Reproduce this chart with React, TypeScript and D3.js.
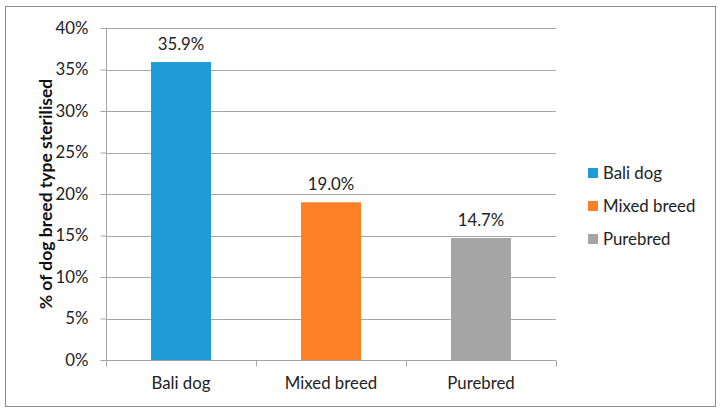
import React, { useEffect, useRef } from "react";
import * as d3 from "d3";

const categories = ["Bali dog", "Mixed breed", "Purebred"];
const values = [35.9, 19.0, 14.7];
const colors = ["#1F9BD8", "#FD7F26", "#A5A5A5"];
const yTicks = [0, 5, 10, 15, 20, 25, 30, 35, 40];

const W = 723;
const H = 412;
const FONT = "Lato, 'Open Sans', sans-serif";
const FS = "16.8px";

const App = () => {
  const ref = useRef<SVGSVGElement | null>(null);

  useEffect(() => {
    const svg = d3.select(ref.current);
    svg.selectAll("*").remove();

    const margin = { top: 28, left: 106, right: 167, bottom: 52 };
    const width = W - margin.left - margin.right;
    const height = H - margin.top - margin.bottom;

    // outer frame
    svg
      .append("rect")
      .attr("x", 5.5)
      .attr("y", 6.5)
      .attr("width", 710)
      .attr("height", 400)
      .attr("fill", "white")
      .attr("stroke", "#8c8c8c")
      .attr("stroke-width", 1);

    const x = d3
      .scaleBand()
      .domain(categories)
      .range([0, width])
      .paddingInner(0.6)
      .paddingOuter(0.3);

    const y = d3.scaleLinear().domain([0, 40]).range([height, 0]);

    const g = svg
      .append("g")
      .attr("transform", `translate(${margin.left},${margin.top})`);

    // gridlines
    g.selectAll(".grid")
      .data(yTicks.slice(1))
      .enter()
      .append("line")
      .attr("x1", 0)
      .attr("x2", width)
      .attr("y1", (d) => Math.round(y(d)) + 0.5)
      .attr("y2", (d) => Math.round(y(d)) + 0.5)
      .attr("stroke", "#a6a6a6");

    // y axis
    const yAxis = g
      .append("g")
      .attr("transform", "translate(0.5,0)")
      .call(
        d3
          .axisLeft(y)
          .tickValues(yTicks)
          .tickSize(6)
          .tickPadding(12)
          .tickFormat((d) => `${d}%`)
      );
    yAxis.select(".domain").attr("stroke", "#a6a6a6").attr("d", `M0,0V${height}`);
    yAxis.selectAll(".tick line").attr("stroke", "#a6a6a6");
    yAxis
      .selectAll(".tick text")
      .attr("fill", "#222")
      .style("font-family", FONT)
      .style("font-size", FS);

    // x axis
    const xAxis = g
      .append("g")
      .attr("transform", `translate(0,${height + 0.5})`)
      .call(d3.axisBottom(x).tickSize(0).tickPadding(17));
    xAxis.select(".domain").attr("stroke", "#a6a6a6").attr("d", `M0,0H${width}`);
    xAxis
      .selectAll(".tick text")
      .attr("fill", "#222")
      .style("font-family", FONT)
      .style("font-size", FS);
    const step = x.step();
    xAxis
      .selectAll(".sep")
      .data(d3.range(categories.length + 1))
      .enter()
      .append("line")
      .attr("x1", (i) => Math.round(i * step) + 0.5)
      .attr("x2", (i) => Math.round(i * step) + 0.5)
      .attr("y1", 0)
      .attr("y2", 6)
      .attr("stroke", "#a6a6a6");

    // bars
    g.selectAll(".bar")
      .data(values)
      .enter()
      .append("rect")
      .attr("x", (d, i) => x(categories[i]) as number)
      .attr("y", (d) => y(d))
      .attr("width", x.bandwidth())
      .attr("height", (d) => height - y(d))
      .attr("fill", (d, i) => colors[i]);

    g.selectAll(".lbl")
      .data(values)
      .enter()
      .append("text")
      .attr("x", (d, i) => (x(categories[i]) as number) + x.bandwidth() / 2)
      .attr("y", (d) => y(d) - 12)
      .attr("text-anchor", "middle")
      .attr("fill", "#222")
      .style("font-family", FONT)
      .style("font-size", FS)
      .text((d) => `${d.toFixed(1)}%`);

    // y label
    svg
      .append("text")
      .attr("transform", `translate(52,${margin.top + height / 2}) rotate(-90)`)
      .attr("text-anchor", "middle")
      .attr("fill", "#111")
      .style("font-family", FONT)
      .style("font-size", "17.5px")
      .style("font-weight", "bold")
      .text("% of dog breed type sterilised");

    // legend
    const legend = svg
      .append("g")
      .selectAll("g")
      .data(categories)
      .enter()
      .append("g")
      .attr("transform", (d, i) => `translate(588,${173 + i * 33})`);
    legend
      .append("rect")
      .attr("x", 0)
      .attr("y", -5)
      .attr("width", 10)
      .attr("height", 10)
      .attr("fill", (d, i) => colors[i]);
    legend
      .append("text")
      .attr("x", 15)
      .attr("y", 0)
      .attr("dy", "0.35em")
      .attr("fill", "#222")
      .style("font-family", FONT)
      .style("font-size", FS)
      .text((d) => d);
  }, []);

  return (
    <svg
      ref={ref}
      width={W}
      height={H}
      style={{ position: "absolute", left: 0, top: 0, background: "white" }}
    />
  );
};

export default App;
